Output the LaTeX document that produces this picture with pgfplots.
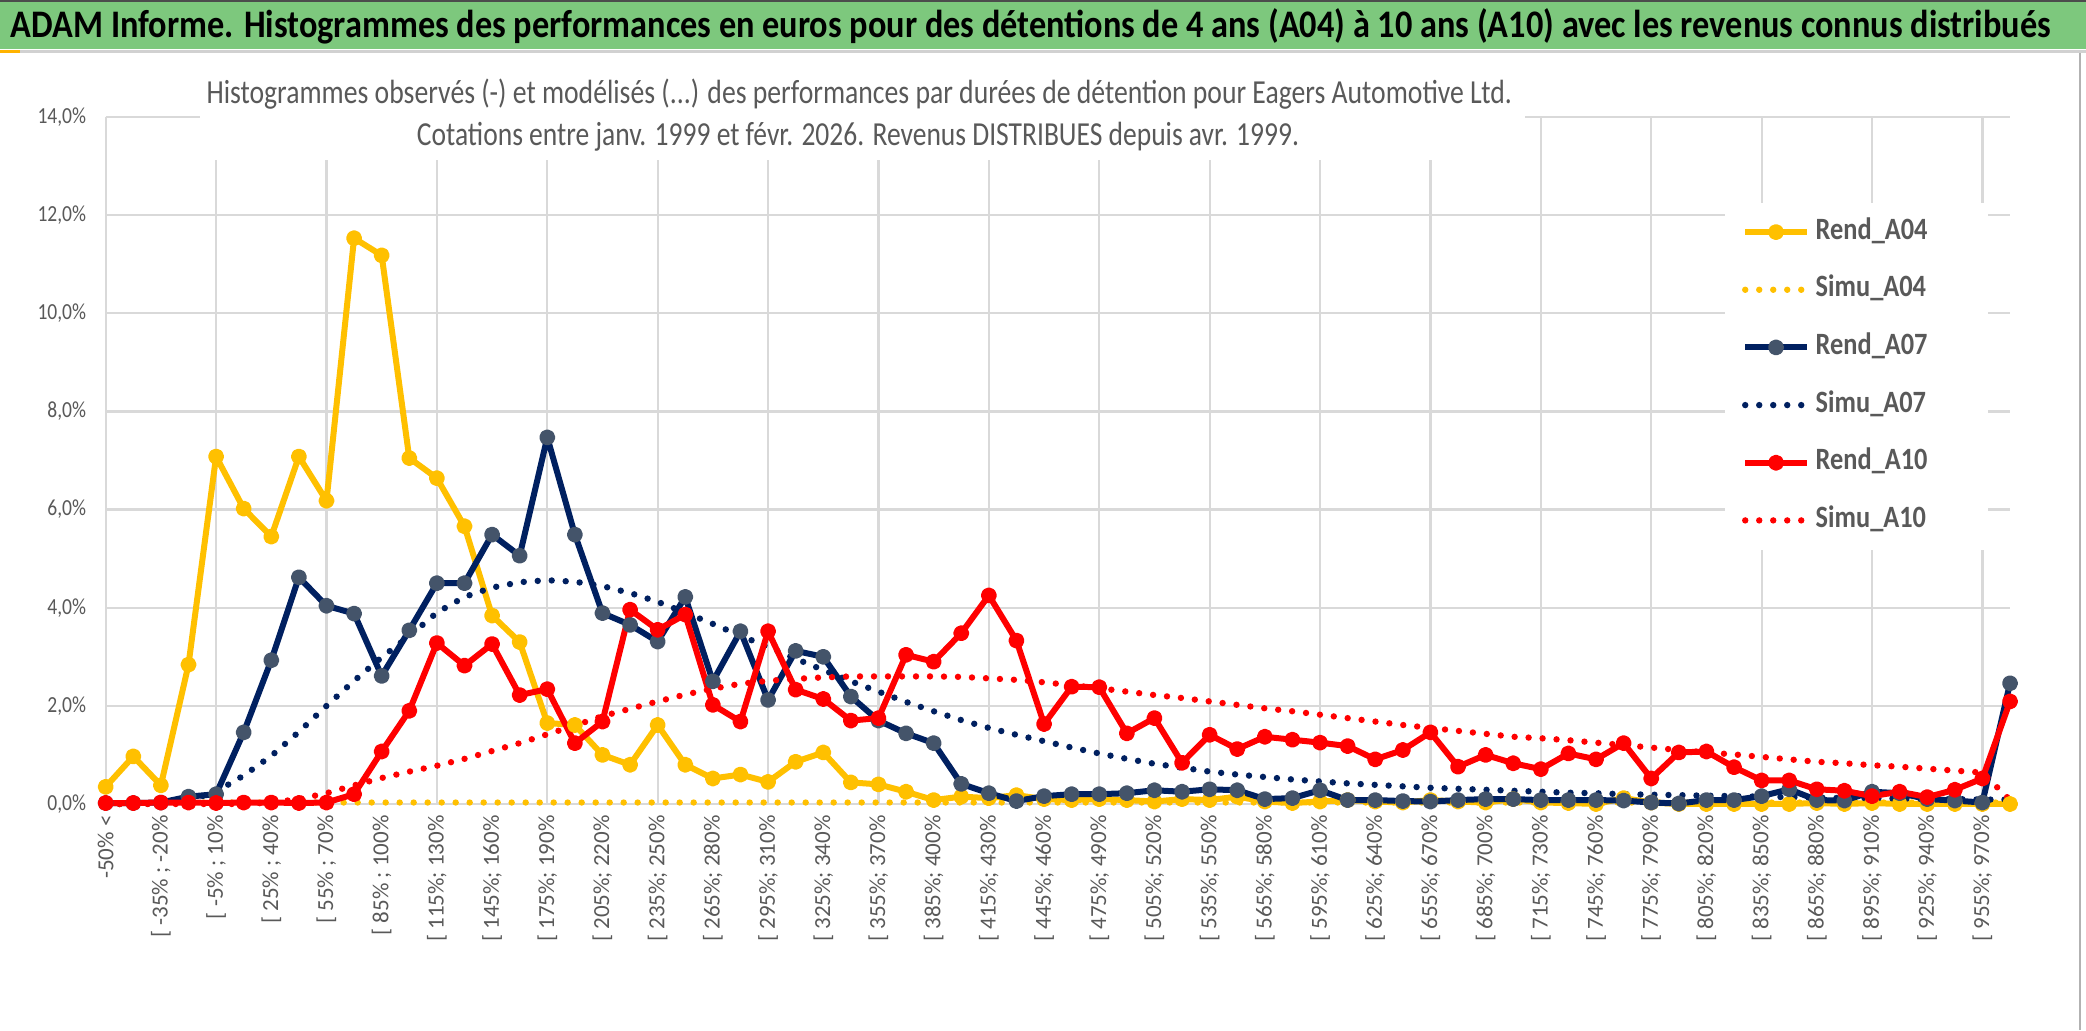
\documentclass[border=0pt]{standalone}
\usepackage{fontspec}
\setmainfont{Carlito}[FakeStretch=0.85]
\newfontfamily\xlabfont{Carlito}
\usepackage{pgfplots}
\usepackage{pgfplotstable}
\pgfplotsset{compat=1.18}
\definecolor{ayel}{HTML}{FFC000}
\definecolor{anavy}{HTML}{002060}
\definecolor{anavym}{HTML}{44546A}
\definecolor{ared}{HTML}{FF0000}
\definecolor{gridc}{HTML}{D9D9D9}
\definecolor{tickc}{HTML}{595959}
\definecolor{bandg}{RGB}{125,200,125}

\pgfplotstableread{
i r04 s04 r07 s07 r10 s10
0 0.35 0.00 0.02 0.00 0.02 0.00
1 0.97 0.00 0.02 0.00 0.02 0.00
2 0.38 0.01 0.03 0.01 0.03 0.00
3 2.84 0.03 0.15 0.07 0.03 0.00
4 7.08 0.03 0.20 0.25 0.02 0.00
5 6.02 0.03 1.46 0.58 0.03 0.00
6 5.45 0.03 2.93 0.98 0.03 0.03
7 7.08 0.03 4.62 1.47 0.02 0.10
8 6.18 0.03 4.04 2.00 0.03 0.22
9 11.53 0.03 3.88 2.51 0.20 0.38
10 11.18 0.03 2.61 2.99 1.07 0.53
11 7.05 0.03 3.54 3.42 1.90 0.66
12 6.64 0.03 4.50 3.90 3.28 0.78
13 5.66 0.03 4.50 4.22 2.82 0.92
14 3.84 0.03 5.49 4.41 3.26 1.08
15 3.30 0.03 5.06 4.52 2.22 1.24
16 1.65 0.03 7.47 4.56 2.34 1.42
17 1.61 0.03 5.49 4.53 1.24 1.60
18 1.00 0.03 3.89 4.44 1.68 1.79
19 0.80 0.03 3.65 4.30 3.96 1.94
20 1.61 0.03 3.31 4.12 3.55 2.09
21 0.80 0.03 4.22 3.90 3.86 2.23
22 0.52 0.03 2.50 3.67 2.02 2.35
23 0.60 0.03 3.52 3.43 1.68 2.45
24 0.45 0.03 2.12 3.20 3.52 2.51
25 0.86 0.03 3.12 2.96 2.33 2.55
26 1.05 0.03 3.00 2.73 2.14 2.58
27 0.44 0.03 2.19 2.50 1.70 2.60
28 0.40 0.03 1.70 2.29 1.75 2.60
29 0.25 0.03 1.44 2.08 3.04 2.60
30 0.08 0.03 1.24 1.89 2.90 2.60
31 0.15 0.03 0.41 1.71 3.48 2.59
32 0.12 0.03 0.22 1.55 4.25 2.56
33 0.18 0.03 0.06 1.41 3.33 2.53
34 0.10 0.03 0.16 1.28 1.63 2.48
35 0.08 0.03 0.20 1.15 2.39 2.42
36 0.10 0.03 0.20 1.03 2.38 2.36
37 0.08 0.03 0.22 0.92 1.44 2.29
38 0.05 0.03 0.28 0.82 1.75 2.22
39 0.10 0.03 0.25 0.74 0.84 2.16
40 0.08 0.03 0.30 0.66 1.41 2.09
41 0.15 0.03 0.28 0.60 1.12 2.02
42 0.05 0.03 0.10 0.55 1.37 1.95
43 0.02 0.03 0.12 0.50 1.31 1.89
44 0.05 0.03 0.28 0.46 1.25 1.82
45 0.08 0.03 0.08 0.42 1.18 1.75
46 0.05 0.03 0.08 0.39 0.91 1.68
47 0.03 0.03 0.06 0.36 1.10 1.61
48 0.08 0.03 0.05 0.33 1.46 1.55
49 0.05 0.03 0.08 0.31 0.76 1.49
50 0.03 0.03 0.10 0.29 1.00 1.43
51 0.10 0.03 0.10 0.27 0.83 1.37
52 0.03 0.03 0.08 0.25 0.71 1.34
53 0.02 0.03 0.08 0.23 1.03 1.30
54 0.00 0.03 0.08 0.22 0.91 1.25
55 0.12 0.03 0.07 0.20 1.24 1.20
56 0.03 0.03 0.03 0.19 0.52 1.15
57 0.00 0.03 0.01 0.18 1.05 1.10
58 0.00 0.03 0.08 0.17 1.07 1.05
59 0.00 0.03 0.08 0.16 0.75 1.01
60 0.00 0.03 0.16 0.15 0.48 0.96
61 0.00 0.03 0.30 0.14 0.48 0.91
62 0.02 0.03 0.08 0.13 0.30 0.86
63 0.00 0.03 0.07 0.12 0.27 0.83
64 0.02 0.03 0.25 0.12 0.16 0.79
65 0.00 0.03 0.22 0.11 0.25 0.76
66 0.00 0.03 0.10 0.10 0.14 0.72
67 0.00 0.03 0.07 0.10 0.29 0.68
68 0.00 0.03 0.03 0.09 0.52 0.64
69 0.00 0.03 2.46 0.09 2.09 0.08
}\datatab

\begin{document}
\begin{tikzpicture}
\path[use as bounding box] (0,0) rectangle (1043bp,515.5bp);
\fill[white] (0,0) rectangle (1043bp,515.5bp);
% title band
\fill[bandg] (0,491bp) rectangle (1043bp,515.5bp);
\draw[black!70,line width=0.8bp] (0,515.1bp) -- (1043bp,515.1bp);
\draw[black!18,line width=1.5bp] (0,489.75bp) -- (1043bp,489.75bp);
\fill[ayel!80!orange] (0,488.8bp) rectangle (10bp,490.7bp);
\node[anchor=base,inner sep=0pt] at (515.5bp,496.5bp)
  {\resizebox{1020bp}{\height}{\fontsize{19.5bp}{21bp}\selectfont\bfseries ADAM Informe. Histogrammes des performances en euros pour des détentions de 4 ans (A04) à 10 ans (A10) avec les revenus connus distribués}};
\begin{axis}[
  scale only axis,
  width=952.15bp, height=343.5bp,
  at={(52.85bp,113.5bp)}, anchor=south west,
  xmin=0, xmax=69, ymin=0, ymax=14,
  clip=false,
  axis line style={draw=none},
  major tick length=0pt,
  /pgf/number format/assume math mode=true,
  ytick={0,2,...,14},
  yticklabel={\pgfmathprintnumber[fixed,fixed zerofill,precision=1,use comma]{\tick}\%},
  yticklabel style={font=\fontsize{11.5bp}{12bp}\selectfont, text=tickc, inner sep=0pt},
  yticklabel shift=9.6bp,
  ymajorgrids=true,
  grid style={draw=gridc, line width=1.1bp},
  xtick={0,2,...,68},
  xticklabels={-50\% <,[ -35\% ; -20\%,[ -5\% ; 10\%,[ 25\% ; 40\%,[ 55\% ; 70\%,[ 85\% ; 100\%,[ 115\%; 130\%,[ 145\%; 160\%,[ 175\%; 190\%,[ 205\%; 220\%,[ 235\%; 250\%,[ 265\%; 280\%,[ 295\%; 310\%,[ 325\%; 340\%,[ 355\%; 370\%,[ 385\%; 400\%,[ 415\%; 430\%,[ 445\%; 460\%,[ 475\%; 490\%,[ 505\%; 520\%,[ 535\%; 550\%,[ 565\%; 580\%,[ 595\%; 610\%,[ 625\%; 640\%,[ 655\%; 670\%,[ 685\%; 700\%,[ 715\%; 730\%,[ 745\%; 760\%,[ 775\%; 790\%,[ 805\%; 820\%,[ 835\%; 850\%,[ 865\%; 880\%,[ 895\%; 910\%,[ 925\%; 940\%,[ 955\%; 970\%},
  xticklabel style={font=\xlabfont\fontsize{11.5bp}{12bp}\selectfont, text=tickc, rotate=90, anchor=east, inner sep=0pt},
  xticklabel shift=5.5bp,
  extra x ticks={0,4,...,68},
  extra x tick labels={},
  extra x tick style={grid=major},
  legend style={at={(0.8503,0.8748)}, anchor=north west, draw=none, fill=white,
    inner xsep=8.35bp, inner ysep=7.85bp, row sep=15.83bp, column sep=2.85bp,
    font=\fontsize{15.5bp}{16bp}\selectfont\bfseries, text=tickc,
    nodes={inner sep=0pt, text height=10bp, text depth=3bp}},
  legend cell align=left,
  legend image code/.code={\draw[mark repeat=2,mark phase=2,#1] plot coordinates {(0bp,0bp) (15.4bp,0bp) (30.8bp,0bp)};},
  rend/.style={line width=3bp, line join=round, mark=*, mark size=2.5bp},
  simu/.style={line width=3.2bp, dash pattern=on 0pt off 7bp, line cap=round, mark=none},
]
\fill[white] (rel axis cs:0.8503,0.3697) rectangle (rel axis cs:0.9884,0.8748);
\addplot[rend, color=ayel, mark options={solid, fill=ayel, draw=ayel}] table[x=i,y=r04] {\datatab};
\addlegendentry{Rend\_A04}
\addplot[simu, color=ayel] table[x=i,y=s04] {\datatab};
\addlegendentry{Simu\_A04}
\addplot[rend, color=anavy, mark options={solid, fill=anavym, draw=anavym}] table[x=i,y=r07] {\datatab};
\addlegendentry{Rend\_A07}
\addplot[simu, color=anavy] table[x=i,y=s07] {\datatab};
\addlegendentry{Simu\_A07}
\addplot[rend, color=ared, mark options={solid, fill=ared, draw=ared}] table[x=i,y=r10] {\datatab};
\addlegendentry{Rend\_A10}
\addplot[simu, color=ared] table[x=i,y=s10] {\datatab};
\addlegendentry{Simu\_A10}
\end{axis}
% subtitle box
\fill[white] (100bp,435.5bp) rectangle (762.5bp,485.5bp);
\node[anchor=base,inner sep=0pt,text=tickc] at (429.6bp,463.6bp)
  {\resizebox{652.7bp}{\height}{\fontsize{16.8bp}{18bp}\selectfont Histogrammes observés (-) et modélisés (...) des performances par durées de détention pour Eagers Automotive Ltd.}};
\node[anchor=base,inner sep=0pt,text=tickc] at (429bp,442.5bp)
  {\resizebox{441bp}{\height}{\fontsize{16.8bp}{18bp}\selectfont Cotations entre janv. 1999 et févr. 2026. Revenus DISTRIBUES depuis avr. 1999.}};
\draw[black!30,line width=0.8bp] (1040bp,0.5bp) -- (1040bp,489bp);
\end{tikzpicture}
\end{document}
